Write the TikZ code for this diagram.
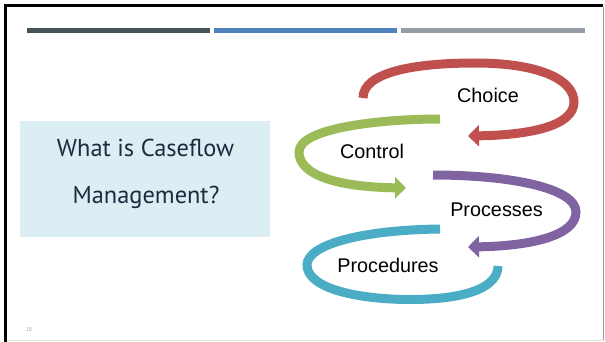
\documentclass[tikz,border=0pt]{standalone}
\usepackage{fontspec}
\setmainfont{Liberation Sans}
\newfontfamily\boxfont{PT Sans}
\usetikzlibrary{arrows.meta}
\definecolor{bardark}{HTML}{465457}
\definecolor{barblue}{HTML}{4F81BD}
\definecolor{bargray}{HTML}{979DA7}
\definecolor{boxblue}{HTML}{DBEEF4}
\definecolor{navy}{HTML}{1C2B3E}
\definecolor{cred}{HTML}{C0504D}
\definecolor{cgreen}{HTML}{9BBB59}
\definecolor{cpurple}{HTML}{8064A2}
\definecolor{ccyan}{HTML}{4BACC6}
\definecolor{numblue}{HTML}{8EA9C9}
\tikzset{
  loop/.style={line width=9pt, line cap=butt},
  loophead/.style={loop, -{Triangle[length=11pt,width=21pt]}},
  lbl/.style={font=\fontsize{19.8}{22}\selectfont, anchor=base, inner sep=0pt},
  qtext/.style={font=\boxfont\fontsize{24.4}{28}\selectfont, text=navy, anchor=base, inner sep=0pt},
}
\begin{document}
\begin{tikzpicture}[x=1pt,y=-1pt]
\useasboundingbox (0,0) rectangle (605,342);
\fill[white] (0,0) rectangle (605,342);
% frame
\fill[black] (4,4) rectangle (603,7);
\fill[black] (4,4) rectangle (7,342);
\draw[line width=1.5pt, color=black!40] (603.5,7) -- (603.5,340);
\draw[line width=1pt, color=black!12] (7,340.5) -- (603,340.5);
% top bars
\fill[bardark] (27,28) rectangle (210,33);
\fill[barblue] (214,28) rectangle (397,33);
\fill[bargray] (401,28) rectangle (585,33);
% question box
\fill[boxblue] (20,121) rectangle (270,237);
\node[qtext] (q1) at (145.5,157) {What is Caseflow};
\node[qtext] (q2) at (146,203) {Management?};
% loops
\draw[loophead, cred] (363,98) .. controls (363,72) and (415,63) .. (475,63)
   .. controls (540,63) and (574,80) .. (574,102)
   .. controls (574,126) and (530,135) .. (468,136);
\draw[loophead, cgreen] (440,119) .. controls (380,119) and (299,128) .. (299,152)
   .. controls (299,176) and (340,187) .. (406,188);
\draw[loophead, cpurple] (433,175) .. controls (510,175) and (576,188) .. (576,212)
   .. controls (576,236) and (530,246) .. (468,247);
\draw[loop, ccyan] (440,229) .. controls (360,230) and (307,245) .. (307,265)
   .. controls (307,289) and (360,299.5) .. (410,299.5)
   .. controls (470,299.5) and (498,286) .. (498,266);
% labels
\node[lbl] (choice) at (488,103) {Choice};
\node[lbl] (control) at (372,158) {Control};
\node[lbl] (processes) at (496.5,216) {Processes};
\node[lbl] (procedures) at (388,272) {Procedures};
\node[font=\fontsize{5.5}{6}\selectfont, text=numblue, inner sep=0pt] (num) at (29,330) {15};
\end{tikzpicture}
\end{document}
